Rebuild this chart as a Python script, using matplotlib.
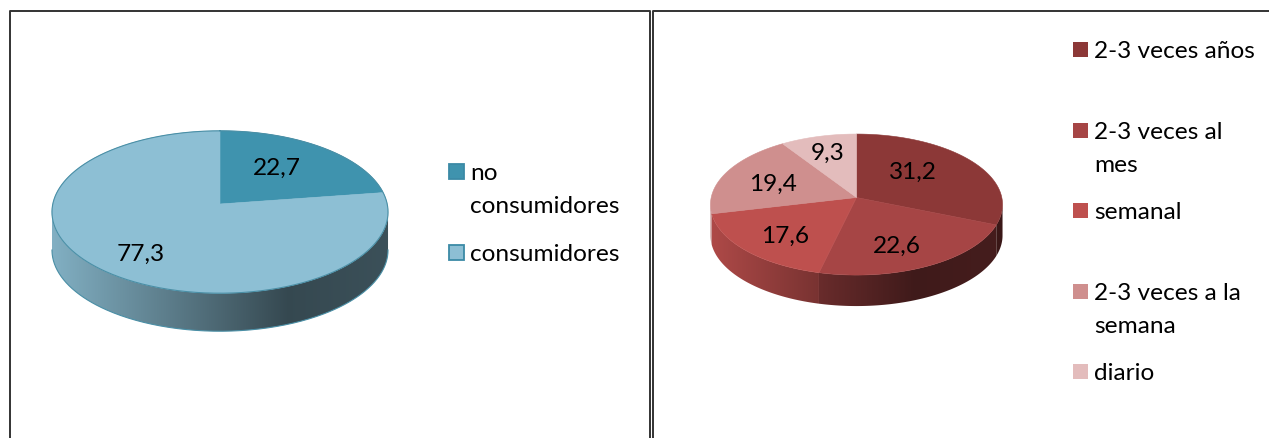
import numpy as np
import matplotlib
matplotlib.use('Agg')
import matplotlib.pyplot as plt
from matplotlib.patches import Polygon, Rectangle
from matplotlib.colors import to_rgb

# Datos
left_names = ['no\nconsumidores', 'consumidores']
left_values = [22.7, 77.3]
left_colors = ['#3F93AE', '#8DBFD4']

right_names = ['2-3 veces años', '2-3 veces al\nmes', 'semanal', '2-3 veces a la\nsemana', 'diario']
right_values = [31.2, 22.6, 17.6, 19.4, 9.3]
right_colors = ['#8C3837', '#A64545', '#BE504E', '#CF8F8E', '#E3BCBC']

plt.rcParams['font.family'] = ['Lato', 'DejaVu Sans']
FS = 17.6

fig = plt.figure(figsize=(12.69, 4.39), dpi=100)
ax = fig.add_axes([0, 0, 1, 1])
ax.set_xlim(0, 1269)
ax.set_ylim(439, 0)
ax.axis('off')


def rim(angles, cx, cy, a, c, k):
    # circulo en perspectiva: el centro queda arriba del centro de la elipse
    u = np.sin(angles)
    v = np.cos(angles)
    w = 1 + k * v
    return np.column_stack([cx + a * u / w, cy - c * v / w])


def pie3d(values, colors, cx, cy, a, c, k, depth, edge=None):
    total = sum(values)
    edges = np.cumsum([0] + list(values)) / total * 2 * np.pi
    x0, x1 = cx - a * 1.005, cx + a * 1.005
    shade = np.interp(np.linspace(0, 1, 300), [0, 0.7, 1], [0.92, 0.38, 0.42])
    # solo el arco frontal tiene lado visible
    front_r = np.arccos(-k)
    front_l = 2 * np.pi - front_r
    for i, col in enumerate(colors):
        start, end = max(edges[i], front_r), min(edges[i + 1], front_l)
        if end <= start:
            continue
        t = np.linspace(start, end, 200)
        pts = rim(t, cx, cy, a, c, k)
        low = pts[::-1] + [0, depth]
        side = Polygon(np.vstack([pts, low]), closed=True, fc='none', ec='none')
        ax.add_patch(side)
        img = np.array(to_rgb(col))[None, None, :] * shade[None, :, None]
        im = ax.imshow(img, extent=[x0, x1, 345, 120], aspect='auto', zorder=2, interpolation='bilinear')
        im.set_clip_path(side)
    ax.set_xlim(0, 1269)
    ax.set_ylim(439, 0)
    # cara superior
    for i, col in enumerate(colors):
        t = np.linspace(edges[i], edges[i + 1], 200)
        pts = np.vstack([[cx, cy], rim(t, cx, cy, a, c, k)])
        ax.add_patch(Polygon(pts, closed=True, fc=col, ec=col, lw=0.4, zorder=3))
    if edge:
        t = np.linspace(0, 2 * np.pi, 500)
        ax.plot(*rim(t, cx, cy, a, c, k).T, color=edge, lw=0.8, zorder=4)
        t = np.linspace(front_r, front_l, 300)
        ax.plot(*(rim(t, cx, cy, a, c, k) + [0, depth]).T, color=edge, lw=0.8, zorder=4)


def value_text(v):
    return f'{v:.1f}'.replace('.', ',')


pie3d(left_values, left_colors, 220, 205, 167.2, 80.4, 0.0988, 38, edge='#4A8FA6')
pie3d(right_values, right_colors, 856.5, 198.5, 145.3, 69.8, 0.1, 31)

# Etiquetas de valor (x centro, y linea base)
left_pos = [(277, 175), (141, 261)]
right_pos = [(913, 179), (897, 253), (785, 243), (773, 191), (828, 160)]
for v, (x, y) in zip(left_values, left_pos):
    ax.text(x, y, value_text(v), ha='center', va='baseline', fontsize=FS, color='black', zorder=5)
for v, (x, y) in zip(right_values, right_pos):
    ax.text(x, y, value_text(v), ha='center', va='baseline', fontsize=FS, color='black', zorder=5)

# Leyendas
left_legend_y = [180, 261]
for name, col, y in zip(left_names, left_colors, left_legend_y):
    ax.add_patch(Rectangle((449, y - 15), 15, 15, fc=col, ec='#3B8AA6', lw=1.3, zorder=5))
    for j, line in enumerate(name.split('\n')):
        ax.text(470, y + j * 33, line, ha='left', va='baseline', fontsize=FS, color='black', zorder=5)

right_legend_y = [58, 139, 219, 300, 380]
for name, col, y in zip(right_names, right_colors, right_legend_y):
    ax.add_patch(Rectangle((1073, y - 15), 15, 15, fc=col, ec='none', zorder=5))
    for j, line in enumerate(name.split('\n')):
        ax.text(1094, y + j * 33, line, ha='left', va='baseline', fontsize=FS, color='black', zorder=5)

# Marcos de los dos recuadros
ax.plot([10, 10, 649.5, 649.5], [439, 12, 12, 439], color='#333333', lw=1.4, zorder=6)
ax.plot([653.3, 653.3, 1269], [439, 12, 12], color='#333333', lw=1.4, zorder=6)

fig.savefig('out.png', dpi=100)
